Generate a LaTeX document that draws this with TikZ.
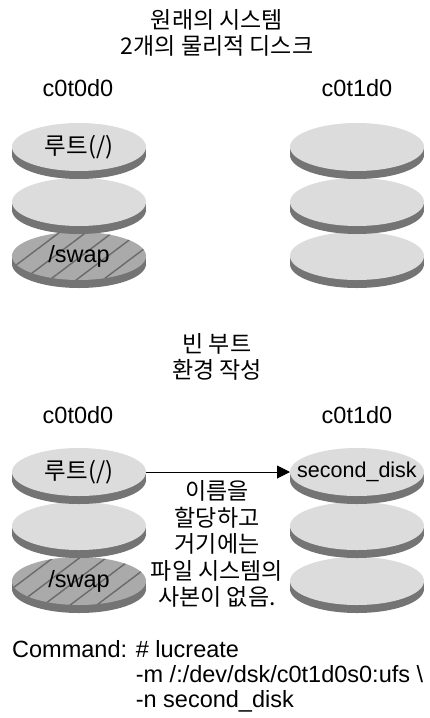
\documentclass[tikz,border=0pt]{standalone}
\usepackage{fontspec}
\setmainfont{Liberation Sans}
\newfontfamily\kr{Noto Sans CJK KR}
\usepackage{tikz}
\usetikzlibrary{shapes.geometric, patterns.meta, arrows.meta}

\definecolor{diskface}{HTML}{DCDCDC}
\definecolor{diskside}{HTML}{747474}
\definecolor{swapface}{HTML}{AAAAAA}
\definecolor{swapline}{HTML}{6A6A6A}

\tikzset{
  disktop/.style={ellipse, fill=diskface, minimum width=134pt, minimum height=48pt, inner sep=0pt, outer sep=0pt},
  swaptop/.style={fill=swapface, postaction={pattern={Lines[angle=37, distance=16pt, line width=1.4pt]}, pattern color=swapline}},
  disklabel/.style={font=\fontsize{23.5}{25}\selectfont, inner sep=0pt},
  title/.style={font=\kr\fontsize{23}{26.5}\selectfont, align=center, inner sep=0pt}
}

\newcommand{\disk}[5]{%
  \fill[diskside] (#2-67,#3) rectangle (#2+67,#3+8);
  \fill[diskside] (#2,#3+8) ellipse [x radius=67, y radius=24];
  \node[disktop, #4] (#1) at (#2,#3) {};
  \node[disklabel] at (#1) {#5};
}

\begin{document}
\begin{tikzpicture}[x=1pt, y=-1pt]
\useasboundingbox (0,0) rectangle (430,718);

% original system
\node[title] (title1) at (217,33) {원래의 시스템\\2개의 물리적 디스크};
\node[disklabel] (la) at (78,88) {c0t0d0};
\node[disklabel] (lb) at (357,88) {c0t1d0};

\disk{a3}{79}{256}{swaptop}{/swap}
\disk{a2}{79}{202}{}{}
\disk{a1}{79}{147}{}{\kr 루트(/)}
\disk{b3}{357}{256}{}{}
\disk{b2}{357}{202}{}{}
\disk{b1}{357}{147}{}{}

% new boot environment
\node[title] (title2) at (217,357) {빈 부트\\환경 작성};
\node[disklabel] (lc) at (78,415) {c0t0d0};
\node[disklabel] (ld) at (357,415) {c0t1d0};

\disk{c3}{79}{581}{swaptop}{/swap}
\disk{c2}{79}{526}{}{}
\disk{c1}{79}{472}{}{\kr 루트(/)}
\disk{d3}{357}{581}{}{}
\disk{d2}{357}{526}{}{}
\disk{d1}{357}{472}{}{\fontsize{21.5}{24}\selectfont second\_disk}

\draw[-{Triangle[length=13pt, width=13pt]}, line width=1pt] (c1.east) -- (d1.west);
\node[title] (note) at (217,544) {이름을\\할당하고\\거기에는\\파일 시스템의\\사본이 없음.};

\node[disklabel, anchor=west, align=left] (cmd) at (12,676)
  {Command: \# lucreate\\\hphantom{Command: }-m /:/dev/dsk/c0t1d0s0:ufs \textbackslash\\\hphantom{Command: }-n second\_disk};

\end{tikzpicture}
\end{document}
